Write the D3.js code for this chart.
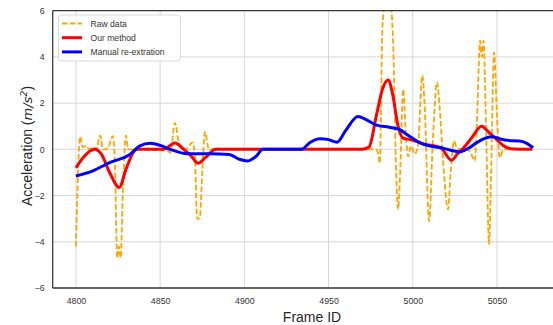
<!DOCTYPE html>
<html><head><meta charset="utf-8">
<script src="https://cdn.jsdelivr.net/npm/d3@7"></script>
<style>body{margin:0;background:#fff}svg{display:block}text{font-family:"Liberation Sans",Arial,sans-serif}</style>
</head><body>
<svg id="chart" width="553" height="325"></svg>
<script>
const xTicks = [4800, 4850, 4900, 4950, 5000, 5050];
const yTicks = [-6, -4, -2, 0, 2, 4, 6];
const seriesNames = ["Raw data", "Our method", "Manual re-extration"];

const rawFrames = [4800,4802.5,4804,4806,4808,4810,4812,4814.5,4816,4817.5,4819,4821.8,4823,4824.5,4825.5,4826.5,4828,4829.7,4831,4835,4854.8,4856,4858.8,4861,4863,4866,4869.2,4870.5,4872,4873.5,4875,4876.6,4879,4880,4975,4978,4979.5,4980.4,4982,4984,4986.5,4988.3,4990.3,4991.3,4992.5,4994.3,4996,4997.2,4999,5001,5003,5005.7,5007,5009.7,5012,5014.4,5016,5018,5021,5022.5,5024.5,5026,5028,5031,5034,5036.8,5038,5040,5041,5042,5043.5,5045.3,5046.5,5048.3,5050,5051.6,5054,5071];
const rawValues = [-4.2,0.55,0.1,0.15,0.0,0.1,0.0,0.6,0.0,0.0,0.05,0.57,-0.3,-4.7,-4.2,-4.7,-1.5,0.6,0.0,0.0,-0.07,-0.15,1.15,0.3,0.0,0.05,0.3,-0.2,-3.0,-3.0,-1.0,0.75,0.0,0.0,0.0,0.0,-0.2,-0.6,5.3,6.5,6.4,4.7,-1.4,-2.6,-1.0,2.6,0.5,-0.3,0.15,-0.2,0.1,3.2,2.0,-3.1,0.5,2.9,1.8,-0.5,-2.6,-1.0,0.36,0.1,0.0,0.0,-0.1,-0.5,1.0,4.7,4.0,4.7,1.0,-4.1,-1.0,4.2,1.5,-0.35,0.0,0.0];

const ourFrames = [4800,4805,4811,4815,4820,4825.7,4830,4836,4852,4858.8,4864,4868,4872.6,4877,4883,4970,4974,4978.5,4982,4985.4,4988,4991.3,4994,4999.6,5004,5008,5013,5017,5023,5027,5030,5035,5040.8,5045,5049.7,5054,5058,5071];
const ourValues = [-0.8,-0.3,0.0,-0.2,-1.0,-1.65,-0.8,0.0,0.0,0.28,0.0,-0.25,-0.6,-0.35,0.0,0.0,0.1,1.5,2.6,3.0,2.4,1.0,0.5,0.4,0.3,0.2,0.15,0.05,-0.47,-0.15,0.05,0.5,1.0,0.75,0.43,0.15,0.03,0.0];

const manualFrames = [4800,4810,4820,4832,4838,4844,4850,4856,4866,4880,4891,4897,4902,4907,4911,4934,4939,4945,4950,4955,4960,4967.5,4972,4978.5,4986,4992,4998,5004,5012,5018,5022,5028,5033,5038,5042,5047,5052,5056,5063.5,5068,5071.4];
const manualValues = [-1.15,-0.93,-0.57,-0.22,0.15,0.26,0.17,0.0,-0.19,-0.19,-0.22,-0.43,-0.5,-0.3,0.0,0.0,0.3,0.46,0.42,0.31,0.8,1.42,1.3,1.05,0.96,0.86,0.57,0.29,0.12,0.05,-0.03,-0.11,0.05,0.29,0.45,0.55,0.45,0.39,0.36,0.25,0.07];

const svg = d3.select("#chart");
const L = 52.7, T = 10.7, B = 288, R = 564;
const x = d3.scaleLinear().domain([4786.2, 5089.8]).range([L, R]);
const y = d3.scaleLinear().domain([-6, 6]).range([B, T]);

svg.append("defs").append("clipPath").attr("id","clip")
  .append("rect").attr("x",L).attr("y",T).attr("width",R-L).attr("height",B-T);

// grid
const grid = svg.append("g");
grid.selectAll(".gx").data(xTicks).join("line")
  .attr("x1",d=>x(d)).attr("x2",d=>x(d)).attr("y1",T).attr("y2",B)
  .attr("stroke","#d6d6d6").attr("stroke-width",1);
grid.selectAll(".gy").data(yTicks).join("line")
  .attr("x1",L).attr("x2",R).attr("y1",d=>y(d)).attr("y2",d=>y(d))
  .attr("stroke","#d6d6d6").attr("stroke-width",1);

// axes (labels only)
const xAxis = svg.append("g").attr("transform",`translate(0,${B})`)
  .call(d3.axisBottom(x).tickValues(xTicks).tickSize(0).tickPadding(10).tickFormat(d3.format("d")));
xAxis.select(".domain").remove();
xAxis.selectAll("text").attr("font-size",8.8).attr("fill","#333").attr("font-family","Liberation Sans, Arial, sans-serif");
const yAxis = svg.append("g").attr("transform",`translate(${L},0)`)
  .call(d3.axisLeft(y).tickValues(yTicks).tickSize(0).tickPadding(8).tickFormat(d3.format("d")));
yAxis.select(".domain").remove();
yAxis.selectAll("text").attr("font-size",8.8).attr("fill","#333").attr("font-family","Liberation Sans, Arial, sans-serif");

// lines
const plot = svg.append("g").attr("clip-path","url(#clip)");
const mk = (fr, vals) => fr.map((f,i)=>[f, vals[i]]);
const line = d3.line().x(d=>x(d[0])).y(d=>y(d[1])).curve(d3.curveMonotoneX);
plot.append("path").datum(mk(rawFrames, rawValues)).attr("d", line)
  .attr("fill","none").attr("stroke","#FFA500").attr("stroke-width",1.8).attr("stroke-dasharray","5.5,2.4");
plot.append("path").datum(mk(ourFrames, ourValues)).attr("d", line)
  .attr("fill","none").attr("stroke","#ff0000").attr("stroke-width",3).attr("stroke-linejoin","round");
plot.append("path").datum(mk(manualFrames, manualValues)).attr("d", line)
  .attr("fill","none").attr("stroke","#0000ff").attr("stroke-width",3).attr("stroke-linejoin","round");

// spines
svg.append("line").attr("x1",L).attr("x2",L).attr("y1",T).attr("y2",B).attr("stroke","#3a3a3a").attr("stroke-width",1.3);
svg.append("line").attr("x1",L).attr("x2",R).attr("y1",B).attr("y2",B).attr("stroke","#3a3a3a").attr("stroke-width",1.3);
svg.append("line").attr("x1",L).attr("x2",R).attr("y1",T).attr("y2",T).attr("stroke","#3a3a3a").attr("stroke-width",1.3);

// legend
const lg = svg.append("g");
lg.append("rect").attr("x",58.5).attr("y",15).attr("width",122).attr("height",46).attr("rx",3)
  .attr("fill","rgba(255,255,255,0.85)").attr("stroke","#d0d0d0").attr("stroke-width",0.8);
const colors = ["#FFA500","#ff0000","#0000ff"];
seriesNames.forEach((n,i)=>{
  const yy = 23.5 + i*14.2;
  lg.append("line").attr("x1",62).attr("x2",82).attr("y1",yy).attr("y2",yy)
    .attr("stroke",colors[i]).attr("stroke-width", i===0?1.8:3)
    .attr("stroke-dasharray", i===0?"5.5,2.4":null);
  lg.append("text").attr("x",90.5).attr("y",yy+3).attr("font-size",8.6).attr("fill","#333").text(n);
});

// axis titles
svg.append("text").attr("x",312).attr("y",321.5).attr("text-anchor","middle")
  .attr("font-size",14).attr("fill","#262626").text("Frame ID");
const yl = svg.append("text").attr("transform","translate(32,146) rotate(-90)")
  .attr("text-anchor","middle").attr("font-size",14).attr("fill","#262626");
yl.append("tspan").text("Acceleration (");
yl.append("tspan").attr("font-style","italic").attr("font-family","DejaVu Sans, sans-serif").attr("font-size",13).text("m/s");
yl.append("tspan").attr("font-style","italic").attr("font-family","DejaVu Sans, sans-serif").attr("font-size",9.5).attr("dy",-5.5).text("2");
yl.append("tspan").attr("dy",5.5).text(")");
</script>
</body></html>
